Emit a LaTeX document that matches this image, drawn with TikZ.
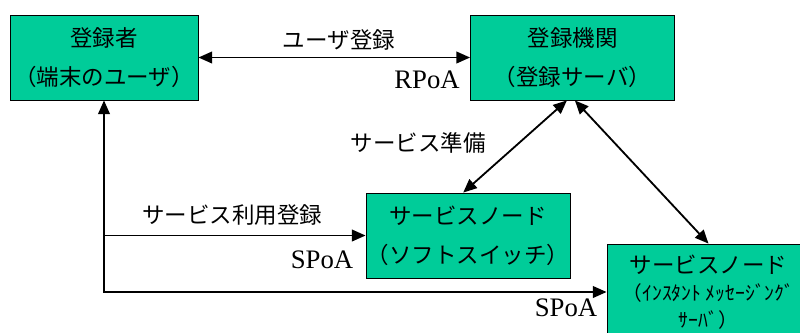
\documentclass[tikz,border=0pt]{standalone}
\usepackage{fontspec}
\setmainfont{Liberation Serif}
\newfontfamily\jpfont{Noto Sans CJK JP}
\usetikzlibrary{arrows.meta}

\definecolor{nodegreen}{RGB}{0,204,153}
\tikzset{
  entity/.style={draw=black, fill=nodegreen, line width=.6pt, minimum width=5.1cm,
    minimum height=2.125cm, align=center, inner sep=0pt,
    font=\jpfont\fontsize{16}{28}\selectfont},
  link/.style={line width=1.3pt},
  jplabel/.style={font=\jpfont\fontsize{16}{18}\selectfont},
  poa/.style={font=\fontsize{19}{22}\selectfont},
  >={Triangle[length=3.4mm,width=2.9mm]}
}

\begin{document}
\begin{tikzpicture}[x=0.025cm,y=-0.025cm]
    \useasboundingbox (0,0) rectangle (800,332);
    \clip (0,0) rectangle (800,332);
    % boxes
    \node[entity, minimum width=4.7cm] (user) at (104,57.5) {登録者\\（端末のユーザ）};
    \node[entity] (regsrv) at (572.5,57.5) {登録機関\\（登録サーバ）};
    \node[entity] (softsw) at (468,235.5) {サービスノード\\（ソフトスイッチ）};
    \node[entity, minimum width=5.075cm, minimum height=2.4cm,
      font=\jpfont\fontsize{16}{19}\selectfont] (imsrv) at (708.5,292)
      {サービスノード\\{\fontsize{14}{19}\selectfont （ｲﾝｽﾀﾝﾄ ﾒｯｾｰｼﾞﾝｸﾞ}\\{\fontsize{14}{19}\selectfont ｻｰﾊﾞ）}};
    % connectors
    \draw[link,<->] (user) -- (regsrv);
    \draw[link,<->] ([xshift=-0.14cm]regsrv.south) -- ([xshift=-0.12cm]softsw.north);
    \draw[link,<->] ([xshift=0.06cm]regsrv.south) -- (imsrv.north);
    \draw[link,<->] (user.south) |- (imsrv.west);
    \draw[link,->] (user.south |- softsw.west) -- (softsw.west);
    % labels
    \node[jplabel] (lblreg) at (339,40) {ユーザ登録};
    \node[poa] (rpoa) at (427,80) {RPoA};
    \node[jplabel] (lblprep) at (418,143) {サービス準備};
    \node[jplabel] (lbluse) at (232,215) {サービス利用登録};
    \node[poa] (spoa1) at (322,260) {SPoA};
    \node[poa] (spoa2) at (566,308) {SPoA};
\end{tikzpicture}
\end{document}
